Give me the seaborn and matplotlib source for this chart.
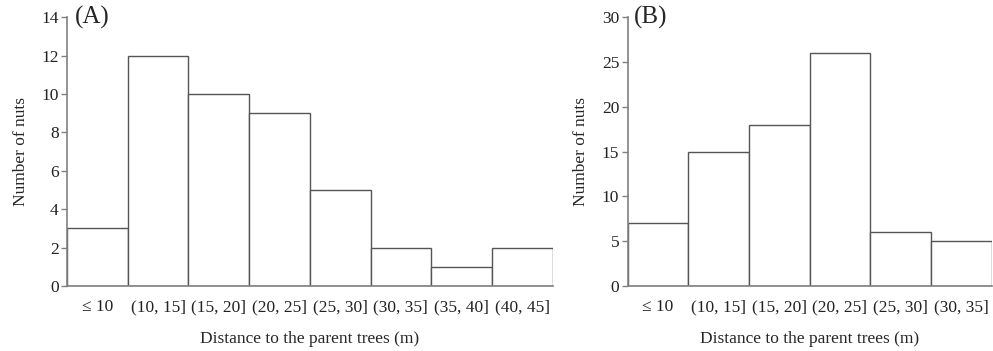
import pandas as pd
import matplotlib
matplotlib.use("Agg")
import matplotlib.pyplot as plt
import seaborn as sns

# Data
bins_a = ['≤ 10', '(10, 15]', '(15, 20]', '(20, 25]', '(25, 30]', '(30, 35]', '(35, 40]', '(40, 45]']
counts_a = [3, 12, 10, 9, 5, 2, 1, 2]

bins_b = ['≤ 10', '(10, 15]', '(15, 20]', '(20, 25]', '(25, 30]', '(30, 35]']
counts_b = [7, 15, 18, 26, 6, 5]

sns.set_style('white')
plt.rcParams['font.family'] = ['Liberation Serif', 'DejaVu Serif']


def draw_panel(ax, bins, counts, ymax, step, label):
    df = pd.DataFrame({'bin': bins, 'count': counts})
    sns.barplot(data=df, x='bin', y='count', ax=ax, color='white',
                edgecolor='#555555', linewidth=1.0, width=1.0, saturation=1)
    ax.set_xlim(-0.5, len(bins) - 0.5)
    ax.set_ylim(0, ymax)
    ax.set_yticks(range(0, ymax + 1, step))
    sns.despine(ax=ax)
    for side in ['left', 'bottom']:
        ax.spines[side].set_color('#808080')
        ax.spines[side].set_linewidth(1.2)
    ax.tick_params(axis='y', which='both', left=True, length=4, width=1,
                   color='#808080', labelsize=12.5, labelcolor='#222222', pad=2)
    ax.tick_params(axis='x', bottom=False, labelsize=12.5, labelcolor='#222222', pad=6)
    ax.set_xlabel('Distance to the parent trees (m)', fontsize=12.5, labelpad=11)
    ax.set_ylabel('Number of nuts', fontsize=12.5, labelpad=9)
    ax.text(0.017, 1.0, label, transform=ax.transAxes, fontsize=18,
            va='center', ha='left')


fig = plt.figure(figsize=(9.93, 3.51), dpi=100)
ax_a = fig.add_axes([0.0675, 0.185, 0.489, 0.766])
ax_b = fig.add_axes([0.632, 0.185, 0.3666, 0.766])

draw_panel(ax_a, bins_a, counts_a, 14, 2, '(A)')
draw_panel(ax_b, bins_b, counts_b, 30, 5, '(B)')

fig.savefig('out.png', dpi=100)
